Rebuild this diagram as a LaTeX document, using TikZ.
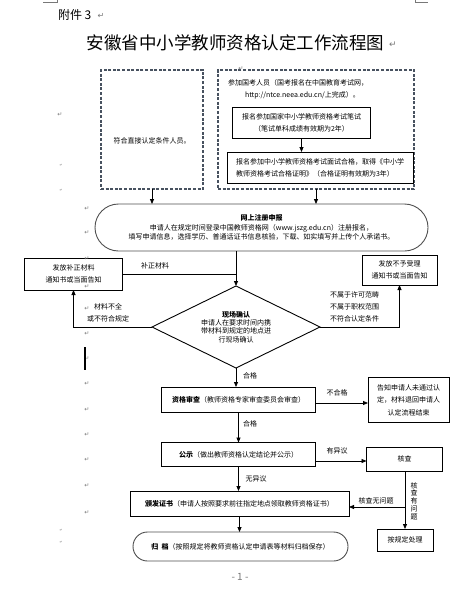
\documentclass[tikz,border=0pt]{standalone}
\usepackage{fontspec}
\setmainfont{Noto Sans CJK SC}
\newfontfamily\dv{DejaVu Sans}
\usetikzlibrary{arrows.meta,shapes.geometric,shapes.misc}
\definecolor{dashc}{RGB}{72,82,96}
\definecolor{rimc}{RGB}{80,80,80}
\definecolor{markc}{RGB}{120,120,120}
\begin{document}
\begin{tikzpicture}[x=1pt,y=-1pt,
  every node/.style={inner sep=0pt, outer sep=0pt},
  sm/.style={font=\fontsize{7}{12}\selectfont},
  box/.style={draw, line width=0.9pt, align=center, sm},
  dbox/.style={draw=dashc, line width=1.3pt, dash pattern=on 3pt off 1.6pt},
  pill/.style={draw=rimc, line width=0.9pt, rounded rectangle, align=center},
  arr/.style={-{Triangle[length=5pt,width=4pt]}, line width=0.8pt},
  ln/.style={line width=0.8pt},
  lbl/.style={sm, align=center},
  rmark/.style={font=\dv\fontsize{6}{6}\selectfont, text=markc},
  tmark/.style={font=\dv\fontsize{3.5}{4}\selectfont, text=markc},
]
\fill[white] (0,0) rectangle (472,592);
\useasboundingbox (0,0) rectangle (472,592);

% page corner marks
\draw[markc, line width=0.6pt] (43,2) -- (57,2) -- (57,0);
\draw[markc, line width=0.6pt] (415,0) -- (415,2) -- (428,2);

\node[font=\fontsize{12}{12}\selectfont, anchor=west] (hdr) at (58,15) {附件 3};
\node[rmark, font=\dv\fontsize{8}{8}\selectfont] (hdrm) at (101,16) {↵};
\node[font=\fontsize{17.5}{18}\selectfont] (title) at (235.5,43) {安徽省中小学教师资格认定工作流程图};
\node[rmark, font=\dv\fontsize{9}{9}\selectfont] (titm) at (393,45) {↵};

% top dashed boxes
\node[dbox, minimum width=102pt, minimum height=119pt] (lbox) at (152,129.5) {};
\node[sm] (lboxt) at (152,141) {符合直接认定条件人员。};
\node[dbox, minimum width=196pt, minimum height=119pt] (rbox) at (316,129.5) {};
\node[rmark] (rboxm) at (241,69) {↵};
\node[sm, anchor=west] (rt1) at (228,83) {参加国考人员（国考报名在中国教育考试网，};
\node[sm, anchor=west] (rt2) at (245,95) {http://ntce.neea.edu.cn/上完成）。};
\node[box, minimum width=138pt, minimum height=31pt] (exam1) at (301.5,122.5) {报名参加国家中小学教师资格考试笔试\\（笔试单科成绩有效期为2年）};
\node[box, minimum width=186pt, minimum height=31pt, align=left] (exam2) at (320,167.5) {报名参加中小学教师资格考试面试合格，取得《中小学\\教师资格考试合格证明》（合格证明有效期为3年）};
\draw[arr] (exam1.south) -- (exam1.south |- exam2.north);

% online registration
\node[pill, minimum width=333pt, minimum height=47pt, font=\fontsize{7}{9.5}\selectfont] (reg) at (261.5,227.5) {\textbf{网上注册申报}\\申请人在规定时间登录中国教师资格网（www.jszg.edu.cn）注册报名，\\填写申请信息，选择学历、普通话证书信息核验，下载、如实填写并上传个人承诺书。};
\draw[arr] (lbox.south) -- (lbox.south |- reg.north);
\draw[arr] (rbox.south) -- (rbox.south |- reg.north);

% on-site confirmation
\node[draw, line width=0.9pt, diamond, aspect=2.05, minimum width=168pt, minimum height=82pt, align=center, font=\fontsize{7}{8.3}\selectfont] (dia) at (236,327) {\textbf{现场确认}\\申请人在要求时间内携\\带材料到规定的地点进\\行现场确认};
\draw[arr] (reg.south -| dia.north) -- (dia.north);

\node[box, minimum width=98pt, minimum height=32pt] (fix) at (73.5,274) {发放补正材料\\通知书或当面告知};
\draw[ln] (fix.east) -- (fix.east -| dia.north);
\node[lbl] (lfix) at (155,266) {补正材料};
\draw[arr] (dia.west) -| (fix.south);
\node[lbl, font=\fontsize{7}{11.5}\selectfont] (lmat) at (108,313) {材料不全\\或不符合规定};

\node[box, minimum width=75pt, minimum height=30pt] (rej) at (399.5,270) {发放不予受理\\通知书或当面告知};
\draw[arr] (dia.east) -| (rej.south);
\node[lbl, align=left, anchor=west] (lrej) at (330,307) {不属于许可范畴\\不属于职权范围\\不符合认定条件};

% review
\node[box, minimum width=154pt, minimum height=25pt] (rev) at (238.5,399.5) {\textbf{资格审查}（教师资格专家审查委员会审查）};
\draw[arr] (dia.south) -- (dia.south |- rev.north);
\node[lbl] (lok1) at (250,376) {合格};

\node[box, minimum width=81pt, minimum height=45pt, font=\fontsize{7}{12.5}\selectfont] (fail) at (408.5,400) {告知申请人未通过认\\定，材料退回申请人\\认定流程结束};
\coordinate (f1) at (0,403);
\draw[arr] (rev.east |- f1) -- (fail.west |- f1);
\node[lbl] (lno) at (337,393) {不合格};

% publicity
\node[box, minimum width=154pt, minimum height=24pt] (pub) at (238.5,454.5) {\textbf{公示}（做出教师资格认定结论并公示）};
\draw[arr] (rev.south) -- (pub.north);
\node[lbl] (lok2) at (250,424) {合格};

\node[box, minimum width=76pt, minimum height=24pt] (chk) at (404.5,459) {核查};
\coordinate (f2) at (0,461);
\draw[arr] (pub.east |- f2) -- (chk.west |- f2);
\node[lbl] (lobj) at (337,451) {有异议};

% certificate
\node[box, minimum width=219pt, minimum height=25pt] (cert) at (239.5,503.5) {\textbf{颁发证书}（申请人按照要求前往指定地点领取教师资格证书）};
\draw[arr] (pub.south) -- (pub.south |- cert.north);
\node[lbl] (lnoobj) at (256,479) {无异议};

\node[box, minimum width=56pt, minimum height=22pt] (hdl) at (405,540) {按规定处理};
\draw[arr] (chk.south -| hdl.north) -- (hdl.north);
\node[lbl, font=\fontsize{7}{7.8}\selectfont] (lprob) at (414,501) {核\\查\\有\\问\\题};
\coordinate (f3) at (0,507);
\draw[arr] (hdl.north |- f3) -- (cert.east |- f3);
\node[lbl] (lnoprob) at (376,501) {核查无问题};

% archive
\node[pill, minimum width=215pt, minimum height=29pt, sm] (arc) at (240.5,546.5) {\textbf{归\ \ 档}（按照规定将教师资格认定申请表等材料归档保存）};
\draw[arr] (cert.south) -- (cert.south |- arc.north);

\node[font=\fontsize{10}{10}\selectfont, text=markc] (pg) at (240,577) {- 1 -};

% editor marks
\foreach \yy [count=\i] in {209,233,259,287,309,334,359,384,410,435,460,486,513}
  \node[rmark] (m\i) at (87,\yy) {↵};
\node[rmark] (ma) at (60,115) {↵};
\foreach \yy [count=\i] in {165,190,530,542}
  \node[tmark] (t\i) at (61,\yy) {↵};
\draw[line width=1.3pt] (85,347) -- (85,370);
\end{tikzpicture}
\end{document}
